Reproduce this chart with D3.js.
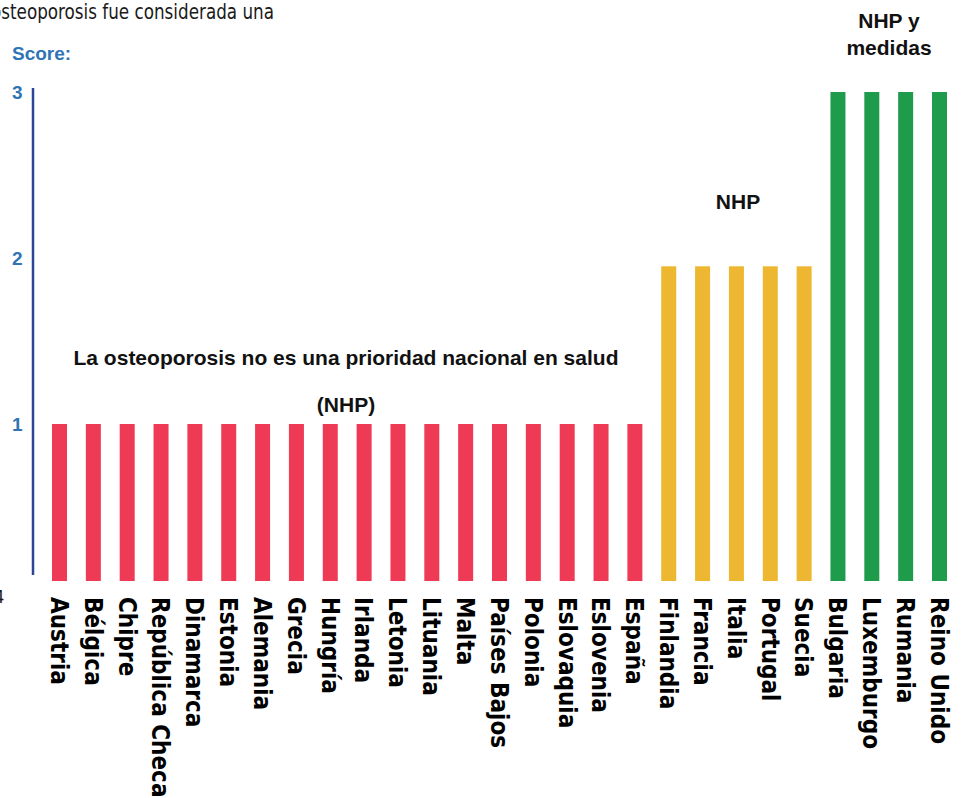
<!DOCTYPE html>
<html>
<head>
<meta charset="utf-8">
<script src="https://cdn.jsdelivr.net/npm/d3@7"></script>
<style>
  body { margin: 0; background: #fff; }
  svg { display: block; }
</style>
</head>
<body>
<svg id="chart"></svg>
<script>
// Datos
const countries = ["Austria", "Bélgica", "Chipre", "República Checa", "Dinamarca", "Estonia",
  "Alemania", "Grecia", "Hungría", "Irlanda", "Letonia", "Lituania", "Malta", "Países Bajos",
  "Polonia", "Eslovaquia", "Eslovenia", "España", "Finlandia", "Francia", "Italia", "Portugal",
  "Suecia", "Bulgaria", "Luxemburgo", "Rumania", "Reino Unido"];
const scores = [1, 1, 1, 1, 1, 1, 1, 1, 1, 1, 1, 1, 1, 1, 1, 1, 1, 1,
  1.95, 1.95, 1.95, 1.95, 1.95, 3, 3, 3, 3];
const groups = ["none", "none", "none", "none", "none", "none", "none", "none", "none",
  "none", "none", "none", "none", "none", "none", "none", "none", "none",
  "nhp", "nhp", "nhp", "nhp", "nhp", "nhpm", "nhpm", "nhpm", "nhpm"];
const yTicks = [1, 2, 3];

const data = countries.map((c, i) => ({ country: c, score: scores[i], group: groups[i] }));

const width = 963;
const height = 798;
const baseline = 581;

const color = d3.scaleOrdinal()
  .domain(["none", "nhp", "nhpm"])
  .range(["#ee3a55", "#edb731", "#1e9c4b"]);

const svg = d3.select("#chart")
  .attr("width", width)
  .attr("height", height);

const x = d3.scaleBand()
  .domain(countries)
  .range([52, 947])
  .paddingInner(0.557)
  .paddingOuter(0);

const y = d3.scaleLinear()
  .domain([0, 3])
  .range([590, 92]);

// texto cortado de arriba
svg.append("text")
  .attr("x", -9)
  .attr("y", 19)
  .attr("textLength", 283)
  .attr("lengthAdjust", "spacingAndGlyphs")
  .attr("font-family", "'DejaVu Sans Condensed', 'DejaVu Sans'")
  .attr("font-stretch", "condensed")
  .attr("font-size", 21)
  .attr("fill", "#1a1a1a")
  .text("osteoporosis fue considerada una");

svg.append("text")
  .attr("x", -6)
  .attr("y", 603)
  .attr("font-family", "'DejaVu Sans Condensed', 'DejaVu Sans'")
  .attr("font-size", 18)
  .attr("fill", "#1a1a1a")
  .text("4");

svg.append("text")
  .attr("x", 12)
  .attr("y", 60)
  .attr("font-family", "'Liberation Sans', Arial, sans-serif")
  .attr("font-weight", "bold")
  .attr("font-size", 19)
  .attr("fill", "#2f75b5")
  .text("Score:");

// eje y
const yAxis = d3.axisLeft(y).tickValues(yTicks).tickSize(0).tickFormat(d3.format("d"));
const gy = svg.append("g")
  .attr("transform", "translate(32,0)")
  .call(yAxis);
gy.select(".domain").remove();
gy.selectAll("text")
  .attr("x", -20)
  .attr("text-anchor", "start")
  .attr("font-family", "'Liberation Sans', Arial, sans-serif")
  .attr("font-weight", "bold")
  .attr("font-size", 19)
  .attr("fill", "#2f75b5");

svg.append("line")
  .attr("x1", 33).attr("x2", 33)
  .attr("y1", 88).attr("y2", 575)
  .attr("stroke", "#2b4597")
  .attr("stroke-width", 2.5);

// barras
svg.selectAll("rect.bar")
  .data(data)
  .enter()
  .append("rect")
  .attr("class", "bar")
  .attr("x", d => x(d.country))
  .attr("width", x.bandwidth())
  .attr("y", d => y(d.score))
  .attr("height", d => baseline - y(d.score))
  .attr("fill", d => color(d.group));

// etiquetas de paises
svg.selectAll("text.country")
  .data(data)
  .enter()
  .append("text")
  .attr("class", "country")
  .attr("transform", d => `translate(${x(d.country) + x.bandwidth() / 2},597) rotate(90)`)
  .attr("dy", "0.36em")
  .attr("font-family", "'DejaVu Sans Condensed', 'DejaVu Sans'")
  .attr("font-stretch", "condensed")
  .attr("font-weight", "bold")
  .attr("font-size", 24)
  .attr("fill", "#000")
  .text(d => d.country);

// anotaciones
const notes = [
  { text: "La osteoporosis no es una prioridad nacional en salud", x: 346, y: 365 },
  { text: "(NHP)", x: 346, y: 412 },
  { text: "NHP", x: 738, y: 209 },
  { text: "NHP y", x: 889, y: 28 },
  { text: "medidas", x: 889, y: 55 }
];
svg.selectAll("text.note")
  .data(notes)
  .enter()
  .append("text")
  .attr("class", "note")
  .attr("x", d => d.x)
  .attr("y", d => d.y)
  .attr("text-anchor", "middle")
  .attr("font-family", "'Liberation Sans', Arial, sans-serif")
  .attr("font-weight", "bold")
  .attr("font-size", 21)
  .attr("fill", "#111")
  .text(d => d.text);
</script>
</body>
</html>
